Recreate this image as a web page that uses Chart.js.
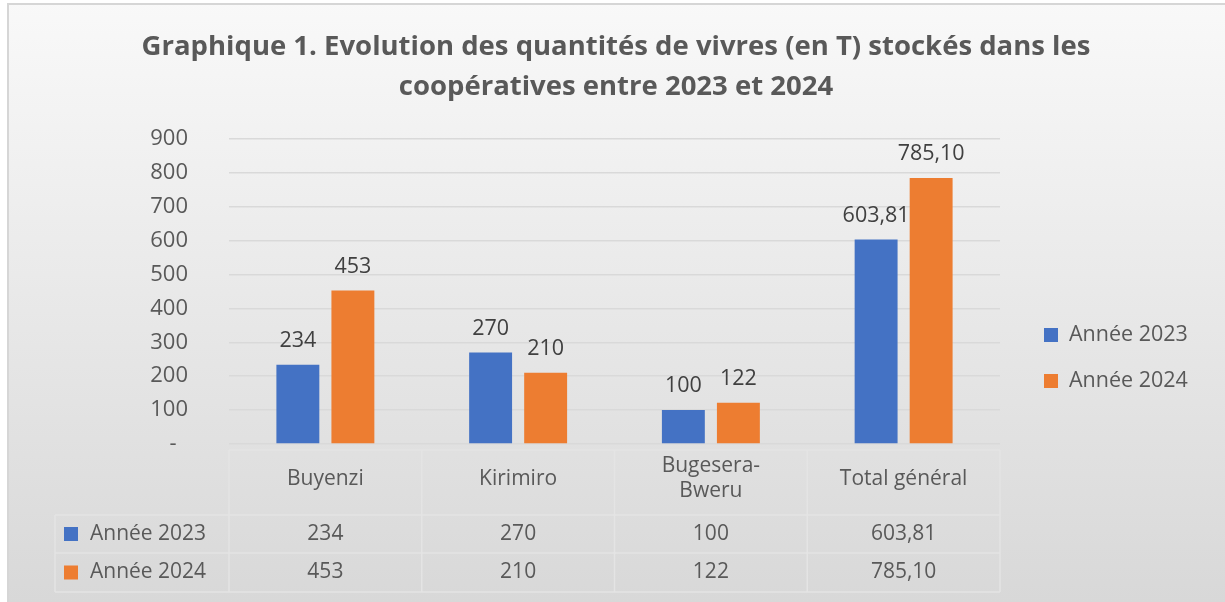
<!DOCTYPE html>
<html>
<head>
<meta charset="utf-8">
<script src="https://cdn.jsdelivr.net/npm/chart.js@4.4.0/dist/chart.umd.min.js"></script>
<style>
  html, body { margin: 0; padding: 0; background: #fff; }
  canvas { display: block; }
</style>
</head>
<body>
<canvas id="stockChart" width="1225" height="602"></canvas>
<script>
const categories = ["Buyenzi", "Kirimiro", ["Bugesera-", "Bweru"], "Total général"];
const seriesNames = ["Année 2023", "Année 2024"];
const values2023 = [234, 270, 100, 603.81];
const values2024 = [453, 210, 122, 785.10];
const yTicks = [0, 100, 200, 300, 400, 500, 600, 700, 800, 900];
const titleLines = ["Graphique 1. Evolution des quantités de vivres (en T) stockés dans les", "coopératives entre 2023 et 2024"];
const colors = ["#4472C4", "#ED7D31"];

const textColor = "#595959";
const font = "'Open Sans', 'Noto Sans', sans-serif";

function fmt(v) {
  return Number.isInteger(v) ? String(v) : v.toFixed(2).replace(".", ",");
}

// background gradient + thin frame like the Excel chart area, and the title
const backgroundPlugin = {
  id: "bg",
  beforeDraw(chart) {
    const ctx = chart.ctx;
    const g = ctx.createLinearGradient(0, 0, 0, chart.height);
    g.addColorStop(0, "#f9f9f9");
    g.addColorStop(1, "#d8d8d8");
    ctx.save();
    ctx.fillStyle = g;
    ctx.fillRect(7, 3, chart.width - 7, chart.height - 3);
    ctx.strokeStyle = "#d6d6d6";
    ctx.lineWidth = 2;
    ctx.beginPath();
    ctx.moveTo(8, chart.height);
    ctx.lineTo(8, 4);
    ctx.lineTo(chart.width, 4);
    ctx.stroke();

    ctx.fillStyle = textColor;
    ctx.font = "bold 27.5px " + font;
    ctx.textAlign = "center";
    ctx.textBaseline = "middle";
    titleLines.forEach((t, i) => ctx.fillText(t, (7 + chart.width) / 2, 47 + i * 40));
    ctx.restore();
  }
};

// value labels above the bars
const valueLabels = {
  id: "valueLabels",
  afterDatasetsDraw(chart) {
    const ctx = chart.ctx;
    ctx.save();
    ctx.font = "21.5px " + font;
    ctx.fillStyle = "#404040";
    ctx.textAlign = "center";
    ctx.textBaseline = "middle";
    chart.data.datasets.forEach((ds, i) => {
      chart.getDatasetMeta(i).data.forEach((bar, j) => {
        ctx.fillText(fmt(ds.data[j]), bar.x, bar.y - 24);
      });
    });
    ctx.restore();
  }
};

// data table under the axis + legend on the right
const dataTable = {
  id: "dataTable",
  afterDraw(chart) {
    const ctx = chart.ctx;
    const x = chart.scales.x;
    const area = chart.chartArea;
    const colW = x.width / categories.length;
    const top = x.top + 6;
    const rows = [top, top + 65, top + 103, top + 142];
    const left = 55;

    ctx.save();
    ctx.strokeStyle = "#e4e4e4";
    ctx.lineWidth = 1.5;
    ctx.beginPath();
    ctx.moveTo(area.left, rows[0]); ctx.lineTo(area.right, rows[0]);
    for (let r = 1; r < rows.length; r++) {
      ctx.moveTo(left, rows[r]); ctx.lineTo(area.right, rows[r]);
    }
    for (let c = 0; c <= categories.length; c++) {
      const cx = area.left + c * colW;
      ctx.moveTo(cx, rows[0]); ctx.lineTo(cx, rows[3]);
    }
    ctx.moveTo(left, rows[1]); ctx.lineTo(left, rows[3]);
    ctx.stroke();

    ctx.fillStyle = textColor;
    ctx.font = "21px " + font;
    ctx.textAlign = "center";
    ctx.textBaseline = "middle";
    categories.forEach((cat, i) => {
      const cx = x.getPixelForValue(i);
      const lines = Array.isArray(cat) ? cat : [cat];
      const cy = rows[0] + 29;
      lines.forEach((l, k) => {
        ctx.fillText(l, cx, cy + (k - (lines.length - 1) / 2) * 25);
      });
    });

    const series = [values2023, values2024];
    series.forEach((vals, s) => {
      const cy = (rows[s + 1] + rows[s + 2]) / 2;
      vals.forEach((v, i) => {
        ctx.fillText(fmt(v), x.getPixelForValue(i), cy);
      });
      ctx.fillStyle = colors[s];
      ctx.fillRect(64, cy - 7, 14, 14);
      ctx.fillStyle = textColor;
      ctx.textAlign = "left";
      ctx.fillText(seriesNames[s], 90, cy);
      ctx.textAlign = "center";
    });

    // legend
    ctx.font = "21.5px " + font;
    ctx.textAlign = "left";
    seriesNames.forEach((name, s) => {
      const cy = 335 + s * 46;
      ctx.fillStyle = colors[s];
      ctx.fillRect(1044, cy - 7, 14, 14);
      ctx.fillStyle = textColor;
      ctx.fillText(name, 1069, cy);
    });
    ctx.restore();
  }
};

new Chart(document.getElementById("stockChart"), {
  type: "bar",
  data: {
    labels: categories,
    datasets: [
      { label: seriesNames[0], data: values2023, backgroundColor: colors[0] },
      { label: seriesNames[1], data: values2024, backgroundColor: colors[1] }
    ]
  },
  options: {
    responsive: false,
    animation: false,
    categoryPercentage: 0.571,
    barPercentage: 0.78,
    layout: { padding: { left: 0, right: 225, top: 139, bottom: 0 } },
    scales: {
      x: {
        grid: { display: false },
        border: { display: false },
        ticks: { display: false },
        afterFit(scale) { scale.height = 158; }
      },
      y: {
        min: 0,
        max: 900,
        afterBuildTicks(scale) { scale.ticks = yTicks.map(v => ({ value: v })); },
        afterFit(scale) { scale.width = 229; },
        grid: { color: "#d9d9d9", lineWidth: 1.5, drawTicks: false },
        border: { display: false },
        ticks: {
          padding: 41,
          color: textColor,
          font: { size: 22, family: font },
          callback: v => v === 0 ? "-  " : String(v)
        }
      }
    },
    plugins: {
      legend: { display: false },
      tooltip: { enabled: false },
      title: { display: false }
    }
  },
  plugins: [backgroundPlugin, valueLabels, dataTable]
});
</script>
</body>
</html>
